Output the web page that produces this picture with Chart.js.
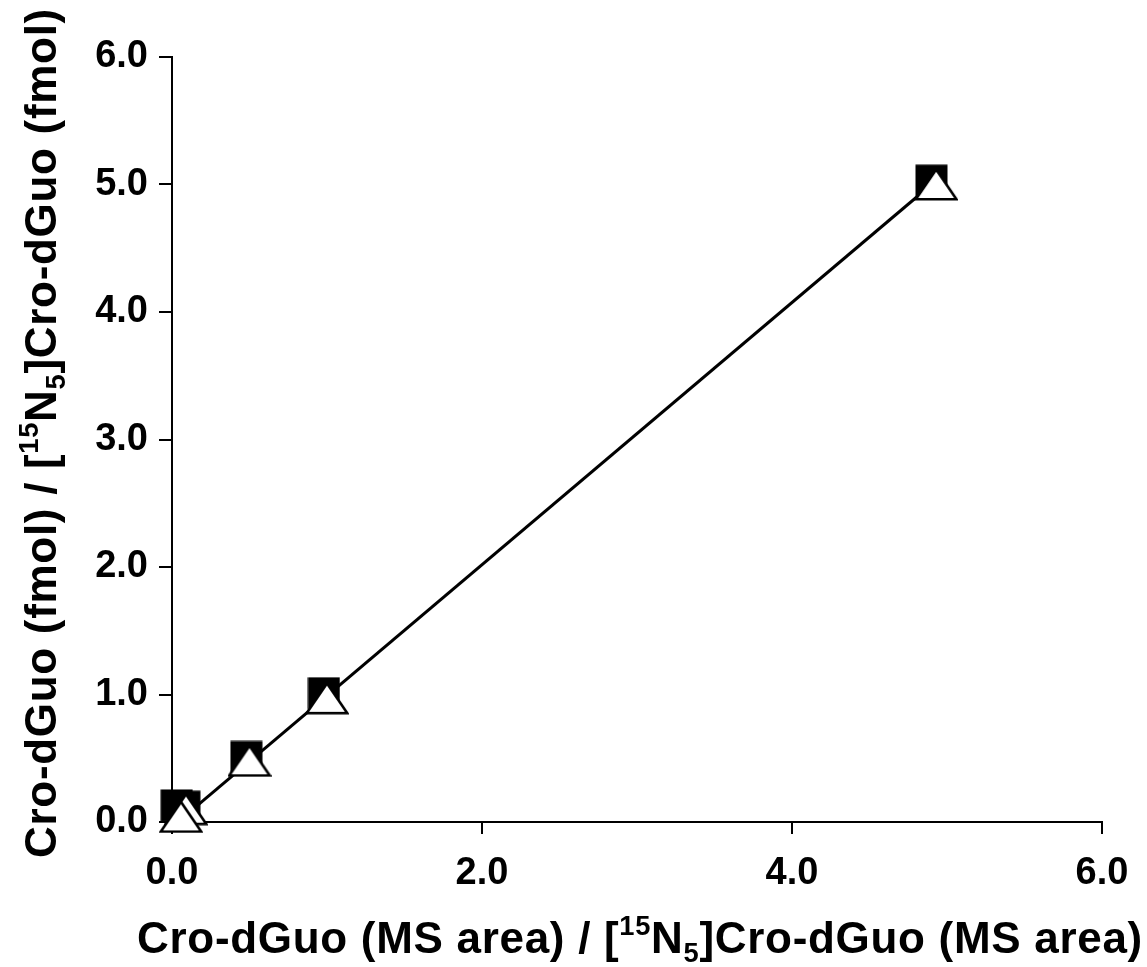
<!DOCTYPE html>
<html>
<head>
<meta charset="utf-8">
<script src="https://cdn.jsdelivr.net/npm/chart.js@4.4.0/dist/chart.umd.min.js"></script>
<style>
  html, body { margin: 0; padding: 0; background: #fff; }
  #wrap { width: 1147px; height: 967px; }
</style>
</head>
<body>
<div id="wrap"><canvas id="c" width="1147" height="967"></canvas></div>
<script>
// ---- data ----
const squareX = [0.03, 0.08, 0.48, 0.98, 4.90];
const squareY = [0.13, 0.12, 0.51, 1.01, 5.03];
const triangleX = [0.09, 0.058, 0.50, 1.00, 4.93];
const triangleY = [0.10, 0.04, 0.48, 0.97, 5.00];
const fitLineX = [0.05, 4.90];
const fitLineY = [0.013, 5.00];
const xTickValues = [0, 2, 4, 6];
const yTickValues = [0, 1, 2, 3, 4, 5, 6];
// axis titles as text segments: [text, kind] kind: n normal, sup, sub
const xTitleParts = [["Cro-dGuo (MS area) / [", "n"], ["15", "sup"], ["N", "n"], ["5", "sub"], ["]Cro-dGuo (MS area)", "n"]];
const yTitleParts = [["Cro-dGuo (fmol) / [", "n"], ["15", "sup"], ["N", "n"], ["5", "sub"], ["]Cro-dGuo (fmol)", "n"]];

const FONT = '"Liberation Sans", Arial, Helvetica, sans-serif';

function makeSquare() {
  const c = document.createElement('canvas');
  c.width = 33; c.height = 33;
  const g = c.getContext('2d');
  g.fillStyle = '#000';
  g.fillRect(0.5, 0.5, 32, 32);
  return c;
}
function makeTriangle() {
  const c = document.createElement('canvas');
  c.width = 44; c.height = 33;
  const g = c.getContext('2d');
  g.beginPath();
  g.moveTo(22, 1.5);
  g.lineTo(42.3, 31.3);
  g.lineTo(1.7, 31.3);
  g.closePath();
  g.fillStyle = '#fff';
  g.fill();
  g.lineWidth = 2.6;
  g.lineJoin = 'miter';
  g.strokeStyle = '#000';
  g.stroke();
  return c;
}

const toPts = (xs, ys) => xs.map((x, i) => ({ x: x, y: ys[i] }));

function drawParts(ctx, parts, size) {
  const segs = parts.map(([t, k]) => {
    const s = k === 'n' ? size : size * 0.62;
    ctx.font = 'bold ' + s + 'px ' + FONT;
    return { t, k, s, w: ctx.measureText(t).width };
  });
  const total = segs.reduce((a, b) => a + b.w, 0);
  let x = -total / 2;
  segs.forEach(sg => {
    ctx.font = 'bold ' + sg.s + 'px ' + FONT;
    let dy = 0;
    if (sg.k === 'sup') dy = -size * 0.40;
    if (sg.k === 'sub') dy = size * 0.20;
    ctx.fillText(sg.t, x, dy);
    x += sg.w;
  });
}

const titlePlugin = {
  id: 'axisTitles',
  afterDraw(chart) {
    const ctx = chart.ctx;
    const ca = chart.chartArea;
    ctx.save();
    ctx.fillStyle = '#000';
    ctx.textAlign = 'left';
    ctx.textBaseline = 'alphabetic';
    try { ctx.letterSpacing = '0.7px'; } catch (e) {}
    ctx.save();
    ctx.translate((ca.left + ca.right) / 2 + 3, 953);
    drawParts(ctx, xTitleParts, 44);
    ctx.restore();
    ctx.save();
    ctx.translate(56, 433);
    ctx.rotate(-Math.PI / 2);
    drawParts(ctx, yTitleParts, 44);
    ctx.restore();
    ctx.restore();
  }
};

const sq = makeSquare();
const tri = makeTriangle();

new Chart(document.getElementById('c'), {
  type: 'scatter',
  data: {
    datasets: [
      {
        label: 'triangles',
        data: toPts(triangleX, triangleY),
        pointStyle: tri,
        pointRadius: 20,
        showLine: false,
        clip: false,
        order: 1
      },
      {
        label: 'squares',
        data: toPts(squareX, squareY),
        pointStyle: sq,
        pointRadius: 16,
        showLine: false,
        clip: false,
        order: 2
      },
      {
        label: 'fit',
        data: toPts(fitLineX, fitLineY),
        showLine: true,
        borderColor: '#000',
        borderWidth: 3,
        pointRadius: 0,
        fill: false,
        clip: false,
        order: 3
      }
    ]
  },
  options: {
    responsive: false,
    animation: false,
    devicePixelRatio: 1,
    layout: { padding: { left: 0, top: 57, right: 45, bottom: 0 } },
    plugins: {
      legend: { display: false },
      tooltip: { enabled: false },
      title: { display: false }
    },
    scales: {
      x: {
        type: 'linear',
        min: 0, max: 6,
        afterBuildTicks: (s) => { s.ticks = xTickValues.map(v => ({ value: v })); },
        afterFit: (s) => { s.height = 145; },
        ticks: {
          color: '#000',
          font: { family: FONT, size: 38, weight: 'bold' },
          padding: 17,
          maxRotation: 0,
          autoSkip: false,
          callback: (v) => Number(v).toFixed(1)
        },
        grid: { display: true, drawOnChartArea: false, drawTicks: true, tickLength: 12, color: '#000', lineWidth: 2 },
        border: { display: true, color: '#000', width: 2 }
      },
      y: {
        type: 'linear',
        min: 0, max: 6,
        afterBuildTicks: (s) => { s.ticks = yTickValues.map(v => ({ value: v })); },
        afterFit: (s) => { s.width = 172; },
        ticks: {
          color: '#000',
          font: { family: FONT, size: 38, weight: 'bold' },
          padding: 11,
          autoSkip: false,
          callback: (v) => Number(v).toFixed(1)
        },
        grid: { display: true, drawOnChartArea: false, drawTicks: true, tickLength: 13, color: '#000', lineWidth: 2 },
        border: { display: true, color: '#000', width: 2 }
      }
    }
  },
  plugins: [titlePlugin]
});
</script>
</body>
</html>
